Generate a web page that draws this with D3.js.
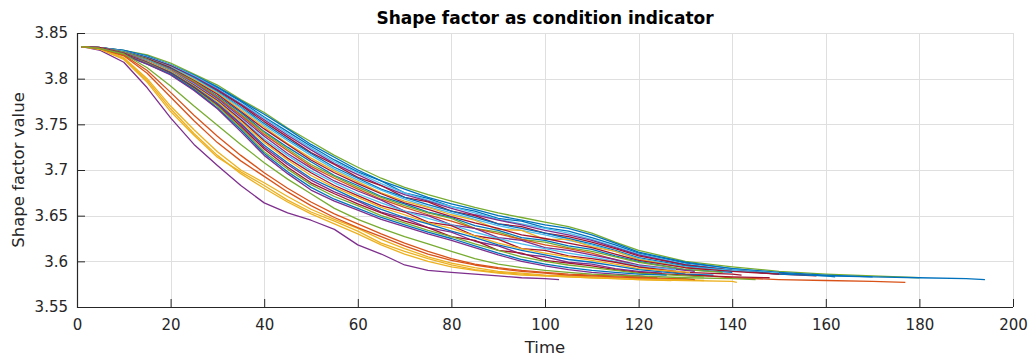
<!DOCTYPE html>
<html>
<head>
<meta charset="utf-8">
<script src="https://cdn.jsdelivr.net/npm/d3@7"></script>
<style>
  body { margin: 0; background: #fff; }
  svg { display: block; font-family: "DejaVu Sans", sans-serif; }
</style>
</head>
<body>
<script>
// sample times used by every series (last point of a series sits at its own end time)
const gridTimes = [1,5,10,15,20,25,30,35,40,45,50,55,60,65,70,75,80,85,90,95,100,105,110,115,120,130,140,150,160,170,180,190];

const xTicks = [0,20,40,60,80,100,120,140,160,180,200];
const yTicks = [3.55,3.6,3.65,3.7,3.75,3.8,3.85];

// MATLAB default colour order
const palette = ["#0072BD","#D95319","#EDB120","#7E2F8E","#77AC30","#4DBEEE","#A2142F"];

const seriesColor = [4,0,0,5,3,6,0,5,2,6,0,4,1,3,5,6,2,0,3,6,4,0,3, 3,2,2,2,1,1,4];
const seriesEnd   = [180,194,162,150,140,158,170,145,135,150,140,138,177,132,128,142,131,136,125,148,134,126,122, 103,141,127,134,132,124,145];

const seriesValues = [
  [3.835,3.834,3.831,3.826,3.817,3.805,3.793,3.777,3.763,3.746,3.731,3.716,3.703,3.691,3.681,3.673,3.666,3.659,3.653,3.648,3.643,3.638,3.631,3.621,3.612, 3.600,3.594,3.589,3.586,3.584, 3.582],
  [3.835,3.834,3.831,3.825,3.815,3.804,3.791,3.776,3.761,3.745,3.728,3.714,3.700,3.688,3.679,3.670,3.663,3.657,3.650,3.645,3.640,3.636,3.629,3.620,3.610, 3.599,3.592,3.588,3.585,3.583,3.582,3.581, 3.580],
  [3.835,3.834,3.831,3.824,3.815,3.803,3.790,3.775,3.758,3.742,3.726,3.711,3.698,3.688,3.675,3.669,3.660,3.655,3.647,3.644,3.637,3.633,3.626,3.618,3.609, 3.598,3.592,3.587,3.584, 3.583],
  [3.835,3.834,3.830,3.824,3.815,3.803,3.789,3.773,3.757,3.740,3.724,3.709,3.697,3.685,3.675,3.667,3.660,3.653,3.646,3.641,3.636,3.631,3.624,3.616,3.608, 3.597,3.591, 3.587],
  [3.835,3.834,3.830,3.823,3.814,3.802,3.788,3.772,3.755,3.738,3.722,3.707,3.695,3.683,3.673,3.666,3.658,3.651,3.645,3.640,3.634,3.629,3.623,3.615,3.607, 3.596, 3.590],
  [3.835,3.834,3.830,3.823,3.814,3.801,3.787,3.771,3.753,3.736,3.719,3.706,3.692,3.683,3.670,3.665,3.655,3.650,3.641,3.638,3.631,3.627,3.621,3.614,3.606, 3.596,3.590,3.586, 3.584],
  [3.835,3.834,3.830,3.823,3.813,3.801,3.786,3.769,3.751,3.734,3.718,3.703,3.691,3.679,3.670,3.662,3.655,3.648,3.641,3.636,3.631,3.625,3.619,3.612,3.604, 3.595,3.590,3.586,3.584, 3.583],
  [3.835,3.834,3.830,3.822,3.813,3.800,3.785,3.768,3.749,3.732,3.716,3.701,3.689,3.678,3.668,3.660,3.653,3.646,3.639,3.634,3.629,3.623,3.618,3.611,3.603, 3.594,3.590, 3.588],
  [3.835,3.834,3.829,3.822,3.812,3.799,3.784,3.766,3.747,3.729,3.713,3.699,3.687,3.675,3.666,3.659,3.651,3.645,3.635,3.634,3.624,3.624,3.616,3.611,3.602, 3.593, 3.590],
  [3.835,3.834,3.829,3.822,3.812,3.798,3.783,3.764,3.745,3.728,3.711,3.697,3.685,3.674,3.664,3.657,3.649,3.642,3.636,3.629,3.625,3.620,3.615,3.608,3.601, 3.593,3.589, 3.586],
  [3.835,3.834,3.829,3.821,3.811,3.797,3.781,3.763,3.742,3.725,3.709,3.694,3.683,3.671,3.663,3.654,3.648,3.639,3.634,3.626,3.623,3.617,3.613,3.606,3.600, 3.591, 3.588],
  [3.835,3.834,3.829,3.821,3.810,3.797,3.780,3.761,3.741,3.723,3.706,3.693,3.681,3.670,3.661,3.653,3.647,3.636,3.632,3.624,3.621,3.615,3.611,3.605,3.599, 3.591, 3.588],
  [3.835,3.834,3.828,3.820,3.810,3.796,3.779,3.760,3.739,3.721,3.704,3.691,3.679,3.668,3.659,3.651,3.644,3.636,3.630,3.624,3.618,3.614,3.609,3.602,3.594, 3.586,3.582,3.580,3.579,3.578, 3.577],
  [3.835,3.834,3.828,3.820,3.809,3.795,3.778,3.758,3.737,3.718,3.702,3.688,3.677,3.667,3.655,3.650,3.640,3.636,3.626,3.623,3.615,3.612,3.607,3.602,3.596, 3.590, 3.589],
  [3.835,3.834,3.828,3.820,3.809,3.794,3.777,3.756,3.734,3.716,3.699,3.686,3.674,3.664,3.655,3.647,3.640,3.632,3.625,3.619,3.614,3.609,3.605,3.600,3.595, 3.591],
  [3.835,3.834,3.828,3.819,3.808,3.793,3.776,3.755,3.732,3.713,3.697,3.683,3.672,3.661,3.654,3.643,3.639,3.628,3.624,3.614,3.612,3.606,3.603,3.599,3.594, 3.588,3.586, 3.585],
  [3.835,3.833,3.827,3.819,3.808,3.792,3.775,3.753,3.730,3.711,3.694,3.681,3.670,3.659,3.651,3.642,3.636,3.628,3.620,3.614,3.609,3.605,3.601,3.597,3.592, 3.588],
  [3.835,3.833,3.827,3.818,3.807,3.791,3.773,3.751,3.727,3.708,3.691,3.679,3.667,3.657,3.648,3.641,3.633,3.626,3.618,3.612,3.607,3.602,3.599,3.595,3.591, 3.586, 3.585],
  [3.835,3.833,3.827,3.818,3.806,3.790,3.772,3.750,3.725,3.706,3.689,3.676,3.666,3.654,3.647,3.637,3.632,3.622,3.617,3.608,3.605,3.599,3.597,3.592,3.589, 3.587],
  [3.835,3.833,3.827,3.817,3.806,3.790,3.771,3.748,3.723,3.703,3.686,3.674,3.663,3.653,3.644,3.637,3.627,3.623,3.612,3.609,3.601,3.598,3.595,3.591,3.588, 3.585,3.583, 3.582],
  [3.835,3.833,3.826,3.817,3.805,3.789,3.770,3.746,3.720,3.701,3.684,3.671,3.661,3.650,3.642,3.634,3.627,3.619,3.612,3.605,3.600,3.596,3.593,3.590,3.587, 3.584, 3.583],
  [3.835,3.833,3.826,3.816,3.805,3.788,3.768,3.744,3.718,3.698,3.681,3.668,3.658,3.648,3.640,3.632,3.625,3.617,3.609,3.602,3.597,3.593,3.590,3.588,3.586, 3.585],
  [3.835,3.833,3.826,3.816,3.804,3.787,3.767,3.742,3.716,3.696,3.678,3.666,3.656,3.646,3.638,3.630,3.623,3.615,3.607,3.600,3.595,3.591,3.588,3.586,3.584, 3.583],
  // lower group
  [3.835,3.831,3.818,3.790,3.757,3.728,3.705,3.683,3.664,3.653,3.645,3.635,3.618,3.608,3.596,3.590,3.588,3.586,3.584,3.582,3.581, 3.580],
  [3.835,3.832,3.822,3.798,3.767,3.740,3.716,3.696,3.680,3.665,3.652,3.641,3.630,3.618,3.608,3.600,3.594,3.590,3.587,3.585,3.584,3.583,3.582,3.581,3.580, 3.579,3.578, 3.577],
  [3.835,3.832,3.821,3.796,3.764,3.738,3.714,3.698,3.683,3.667,3.654,3.644,3.633,3.620,3.611,3.603,3.596,3.591,3.588,3.586,3.584,3.583,3.582,3.581,3.580, 3.579],
  [3.835,3.833,3.823,3.800,3.770,3.744,3.720,3.700,3.686,3.671,3.657,3.646,3.636,3.624,3.614,3.605,3.598,3.593,3.589,3.587,3.585,3.584,3.583,3.582,3.581, 3.580, 3.579],
  [3.835,3.833,3.825,3.806,3.780,3.754,3.730,3.710,3.693,3.676,3.661,3.648,3.637,3.627,3.617,3.608,3.601,3.596,3.592,3.589,3.587,3.585,3.584,3.583,3.582, 3.581, 3.580],
  [3.835,3.833,3.826,3.809,3.785,3.760,3.737,3.716,3.697,3.680,3.665,3.652,3.641,3.630,3.620,3.611,3.603,3.597,3.593,3.590,3.588,3.586,3.585,3.584,3.583, 3.582],
  [3.835,3.833,3.827,3.812,3.792,3.770,3.749,3.728,3.708,3.690,3.674,3.658,3.646,3.636,3.627,3.619,3.611,3.603,3.597,3.593,3.590,3.588,3.586,3.585,3.584, 3.582,3.581, 3.580]
];

const W = 1031, H = 358;
const plotL = 77, plotR = 1013, plotT = 33, plotB = 307;
const ink = "#262626", gridCol = "#dfdfdf";

const svg = d3.select("body").append("svg").attr("width", W).attr("height", H);

const x = d3.scaleLinear().domain([0, 200]).range([plotL, plotR]);
const y = d3.scaleLinear().domain([3.55, 3.85]).range([plotB, plotT]);

// grid
svg.append("g").selectAll("line").data(xTicks).join("line")
  .attr("x1", d => Math.round(x(d)) + 0.5).attr("x2", d => Math.round(x(d)) + 0.5)
  .attr("y1", plotT).attr("y2", plotB)
  .attr("stroke", gridCol).attr("stroke-width", 1);
svg.append("g").selectAll("line").data(yTicks).join("line")
  .attr("y1", d => Math.round(y(d)) + 0.5).attr("y2", d => Math.round(y(d)) + 0.5)
  .attr("x1", plotL).attr("x2", plotR)
  .attr("stroke", gridCol).attr("stroke-width", 1);

svg.append("clipPath").attr("id", "plotclip").append("rect")
  .attr("x", plotL).attr("y", plotT).attr("width", plotR - plotL).attr("height", plotB - plotT);

// series
const line = d3.line().x(d => x(d[0])).y(d => y(d[1]));
const pts = seriesValues.map((vals, i) =>
  vals.map((v, j) => [j === vals.length - 1 ? seriesEnd[i] : gridTimes[j], v]));

svg.append("g").attr("clip-path", "url(#plotclip)")
  .selectAll("path").data(pts).join("path")
  .attr("d", line)
  .attr("fill", "none")
  .attr("stroke", (d, i) => palette[seriesColor[i]])
  .attr("stroke-width", 1.3)
  .attr("stroke-linejoin", "round");

// axes
const xAxis = svg.append("g").attr("transform", `translate(0,${plotB})`)
  .call(d3.axisBottom(x).tickValues(xTicks).tickSize(-8).tickPadding(12).tickFormat(d3.format("d")));
const yAxis = svg.append("g").attr("transform", `translate(${plotL},0)`)
  .call(d3.axisLeft(y).tickValues(yTicks).tickSize(-8).tickPadding(9).tickFormat(d => String(+d.toFixed(2))));

[xAxis, yAxis].forEach(a => {
  a.select(".domain").remove();
  a.selectAll(".tick line").attr("stroke", ink);
  a.selectAll(".tick text").attr("fill", ink).style("font-size", "15px")
    .style("font-family", "'DejaVu Sans', sans-serif");
});

svg.append("line").attr("x1", plotL).attr("x2", plotR).attr("y1", plotB + 0.5).attr("y2", plotB + 0.5)
  .attr("stroke", ink).attr("stroke-width", 1.2);
svg.append("line").attr("x1", plotL + 0.5).attr("x2", plotL + 0.5).attr("y1", plotT).attr("y2", plotB + 1)
  .attr("stroke", ink).attr("stroke-width", 1.2);

// text
svg.append("text").attr("x", (plotL + plotR) / 2).attr("y", 24)
  .attr("text-anchor", "middle").style("font-size", "17px").style("font-weight", "bold")
  .attr("fill", "#000").text("Shape factor as condition indicator");

svg.append("text").attr("x", (plotL + plotR) / 2).attr("y", 353)
  .attr("text-anchor", "middle").style("font-size", "16.5px")
  .attr("fill", ink).text("Time");

svg.append("text").attr("transform", `translate(24,${(plotT + plotB) / 2}) rotate(-90)`)
  .attr("text-anchor", "middle").style("font-size", "16.5px")
  .attr("fill", ink).text("Shape factor value");
</script>
</body>
</html>
